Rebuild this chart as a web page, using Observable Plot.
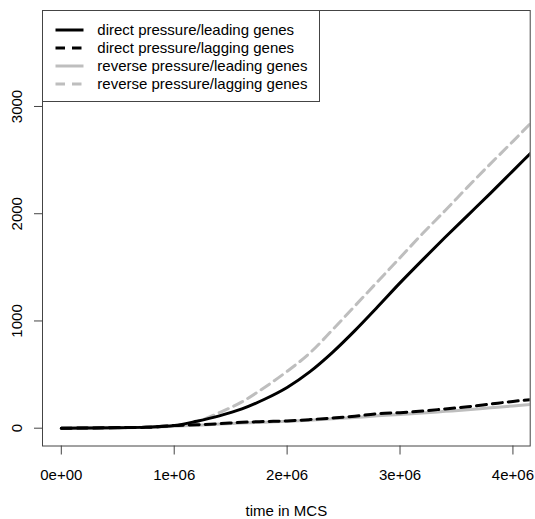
<!DOCTYPE html>
<html>
<head>
<meta charset="utf-8">
<script src="https://cdn.jsdelivr.net/npm/d3@7"></script>
<script src="https://cdn.jsdelivr.net/npm/@observablehq/plot@0.6"></script>
<style>
  html, body { margin: 0; padding: 0; background: #fff; }
  svg { font-family: "Liberation Sans", Arial, Helvetica, sans-serif; }
</style>
</head>
<body>
<div id="chart"></div>
<script>
// time in MCS
const time = [0, 250000, 500000, 750000, 1000000, 1200000, 1400000, 1600000, 1800000, 2000000,
  2200000, 2400000, 2600000, 2800000, 3000000, 3200000, 3400000, 3600000, 3800000, 4000000, 4200000];

const directLeading  = [0, 2, 4, 10, 25, 65, 115, 180, 270, 380, 525, 705, 910, 1130, 1355, 1570, 1780, 1985, 2190, 2400, 2610];
const directLagging  = [0, 2, 6, 8, 25, 32, 42, 55, 62, 68, 80, 95, 112, 135, 145, 160, 180, 200, 225, 250, 270];
const reverseLeading = [0, 2, 5, 8, 18, 28, 38, 48, 56, 65, 75, 87, 100, 115, 128, 142, 157, 172, 190, 208, 225];
const reverseLagging = [0, 2, 4, 9, 25, 60, 145, 245, 380, 530, 700, 915, 1140, 1365, 1590, 1815, 2030, 2250, 2465, 2675, 2890];

const seriesNames = ["direct pressure/leading genes", "direct pressure/lagging genes",
  "reverse pressure/leading genes", "reverse pressure/lagging genes"];
const seriesValues = [directLeading, directLagging, reverseLeading, reverseLagging];
const seriesStyle = [
  {stroke: "#000", dash: null},
  {stroke: "#000", dash: "10,6"},
  {stroke: "#bebebe", dash: null},
  {stroke: "#bebebe", dash: "10,6"}
];

const xTicks = [0, 1000000, 2000000, 3000000, 4000000];
const yTicks = [0, 1000, 2000, 3000];

const rows = [];
seriesNames.forEach((name, i) => {
  time.forEach((t, j) => rows.push({series: name, t, v: seriesValues[i][j]}));
});

function sci(d) {
  if (d === 0) return "0e+00";
  const e = Math.floor(Math.log10(Math.abs(d)));
  const m = +(d / Math.pow(10, e)).toFixed(6);
  return `${m}e${e >= 0 ? "+" : "-"}${String(Math.abs(e)).padStart(2, "0")}`;
}

const drawOrder = [2, 3, 0, 1];
const lineMarks = drawOrder.map(i => Plot.line(rows.filter(r => r.series === seriesNames[i]), {
  x: "t", y: "v", stroke: seriesStyle[i].stroke, strokeWidth: 3,
  strokeDasharray: seriesStyle[i].dash || undefined, clip: true, curve: "monotone-x"
}));

const plot = Plot.plot({
  width: 535,
  height: 519,
  marginLeft: 42,
  marginRight: 5.3,
  marginTop: 10,
  marginBottom: 73.5,
  style: {fontFamily: "Liberation Sans, Arial, Helvetica, sans-serif", fontSize: "15px", color: "#000", background: "#fff"},
  x: {domain: [-166500, 4153000]},
  y: {domain: [-166, 3895]},
  marks: [
    ...lineMarks,
    Plot.axisX({ticks: xTicks, tickSize: 9, tickPadding: 14, tickFormat: sci, fontSize: 15, stroke: "#444", label: null}),
    Plot.axisY({ticks: yTicks, tickSize: 8, tickFormat: () => "", stroke: "#444", label: null}),
    Plot.text(yTicks, {y: d => d, text: d => String(d), frameAnchor: "left", dx: -25.5, rotate: -90, textAnchor: "middle", fontSize: 15}),
    Plot.text(["time in MCS"], {frameAnchor: "bottom", dy: 65.5, text: d => d, fontSize: 15, lineAnchor: "middle"}),
    Plot.frame({stroke: "#444"})
  ]
});

document.getElementById("chart").appendChild(plot);

// legend inside the plot (top-left), like R's legend("topleft")
const svg = d3.select(plot);
const lg = svg.append("g").attr("class", "legend").attr("text-anchor", "start");
lg.append("rect").attr("x", 42.5).attr("y", 10.5).attr("width", 277).attr("height", 91)
  .attr("fill", "#fff").attr("stroke", "#444");
const rowY = [30, 48, 66, 84];
seriesNames.forEach((name, i) => {
  lg.append("line").attr("x1", 55.5).attr("x2", 83.5).attr("y1", rowY[i]).attr("y2", rowY[i])
    .attr("stroke", seriesStyle[i].stroke).attr("stroke-width", 3)
    .attr("stroke-dasharray", seriesStyle[i].dash ? "9.5,7" : null);
  lg.append("text").attr("x", 97.3).attr("y", rowY[i]).attr("dy", "0.35em")
    .attr("text-anchor", "start")
    .attr("font-size", 15).attr("fill", "#000").text(name);
});
</script>
</body>
</html>
